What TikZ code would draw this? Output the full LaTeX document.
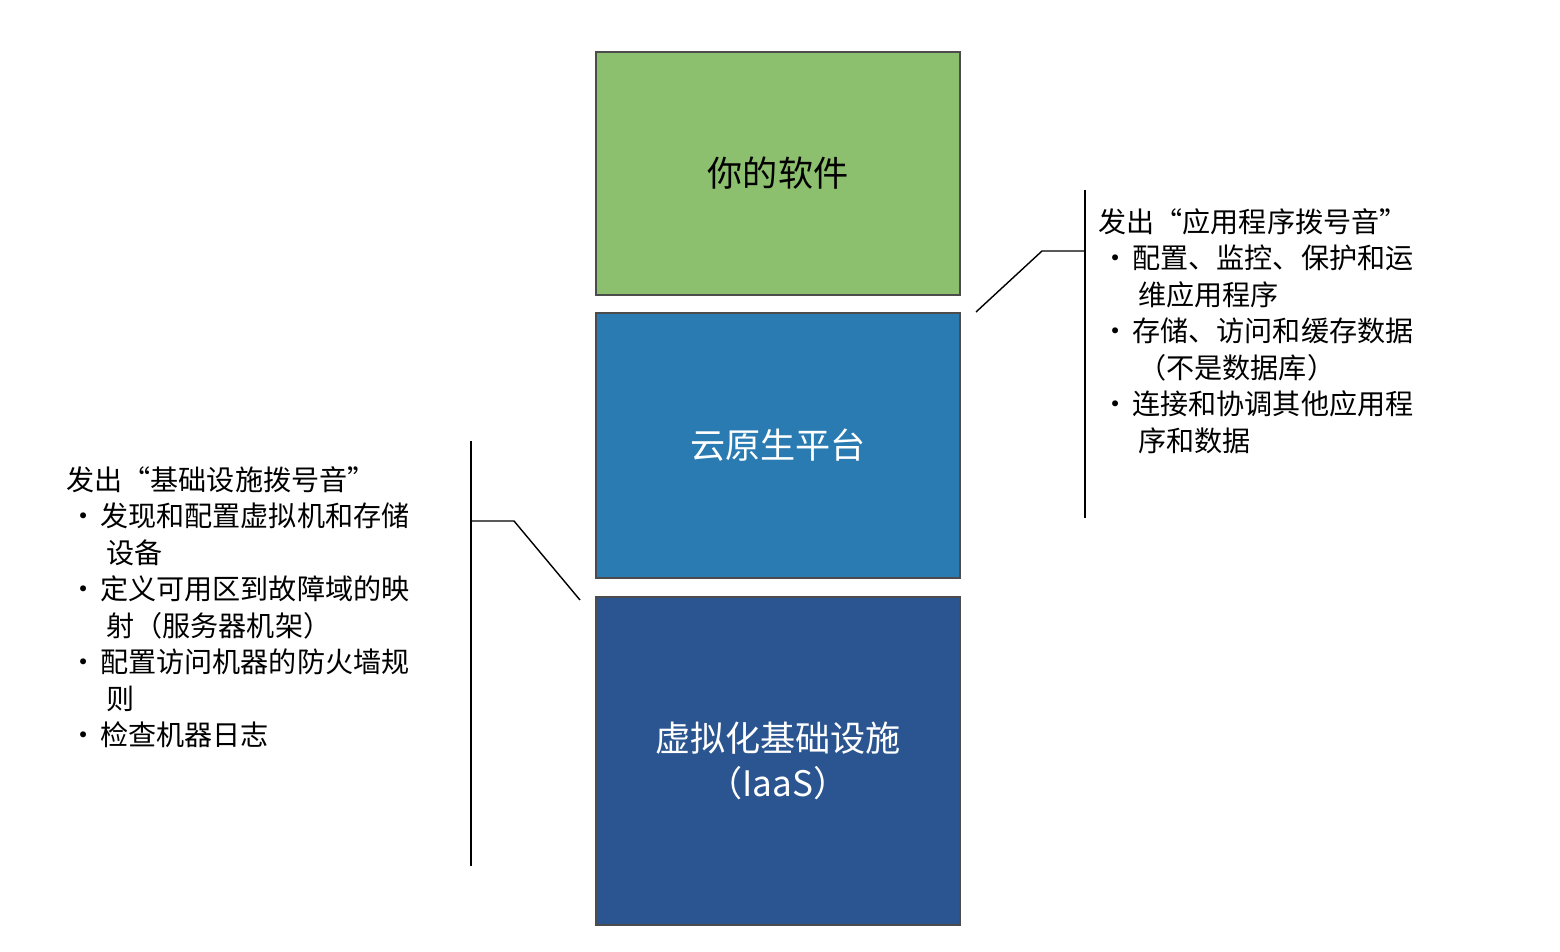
\documentclass[tikz,border=0pt]{standalone}
\usepackage{fontspec}
\setmainfont{Noto Sans CJK SC}
\usetikzlibrary{positioning}
\definecolor{softgreen}{HTML}{8CBF6E}
\definecolor{platblue}{HTML}{2A7BB1}
\definecolor{iaasblue}{HTML}{2A5590}
\tikzset{
	layer/.style = {rectangle, minimum width = 7.28cm, draw = black!70, thick, text centered, font = \fontsize{20}{26}\selectfont},
	notes/.style = {anchor = north west, align = left, inner sep = 0pt, font = \fontsize{16}{20.8}\selectfont},
	bracket/.style = {draw = black, thick}
}
\newcommand{\itm}{\makebox[0.68cm][c]{·}}
\newcommand{\cnt}{\hspace*{0.8cm}}
\begin{document}
\begin{tikzpicture}[x=0.02cm, y=-0.02cm]
	\useasboundingbox (0,0) rectangle (1560,952);
	
	%% layers
	\node (soft) [layer, fill = softgreen, minimum height = 4.86cm] at (778,173.5) {你的软件};
	\node (plat) [layer, fill = platblue, text = white, minimum height = 5.3cm] at (778,445.5) {云原生平台};
	\node (iaas) [layer, fill = iaasblue, text = white, minimum height = 6.56cm, align = center] at (778,761) {虚拟化基础设施\\（IaaS）};
	
	%% brackets
	\coordinate (rtop) at (1085,190);
	\coordinate (rbot) at (1085,518);
	\coordinate (rmid) at (1085,251);
	\coordinate (rknee) at (1042,251);
	\coordinate (rtip) at (976,312);
	\coordinate (ltop) at (471,441);
	\coordinate (lbot) at (471,866);
	\coordinate (lmid) at (471,521);
	\coordinate (lknee) at (514,521);
	\coordinate (ltip) at (580,600);
	\draw [bracket] (rtop) -- (rbot);
	\draw [bracket] (rtip) -- (rknee) -- (rmid);
	\draw [bracket] (ltop) -- (lbot);
	\draw [bracket] (ltip) -- (lknee) -- (lmid);
	
	%% text fields
	\node (apptxt) [notes] at (1098,208) {发出“应用程序拨号音”\\
		\itm 配置、监控、保护和运\\
		\cnt 维应用程序\\
		\itm 存储、访问和缓存数据\\
		\cnt（不是数据库）\\
		\itm 连接和协调其他应用程\\
		\cnt 序和数据};
	\node (infratxt) [notes] at (66,466) {发出“基础设施拨号音”\\
		\itm 发现和配置虚拟机和存储\\
		\cnt 设备\\
		\itm 定义可用区到故障域的映\\
		\cnt 射（服务器机架）\\
		\itm 配置访问机器的防火墙规\\
		\cnt 则\\
		\itm 检查机器日志};
\end{tikzpicture}
\end{document}
